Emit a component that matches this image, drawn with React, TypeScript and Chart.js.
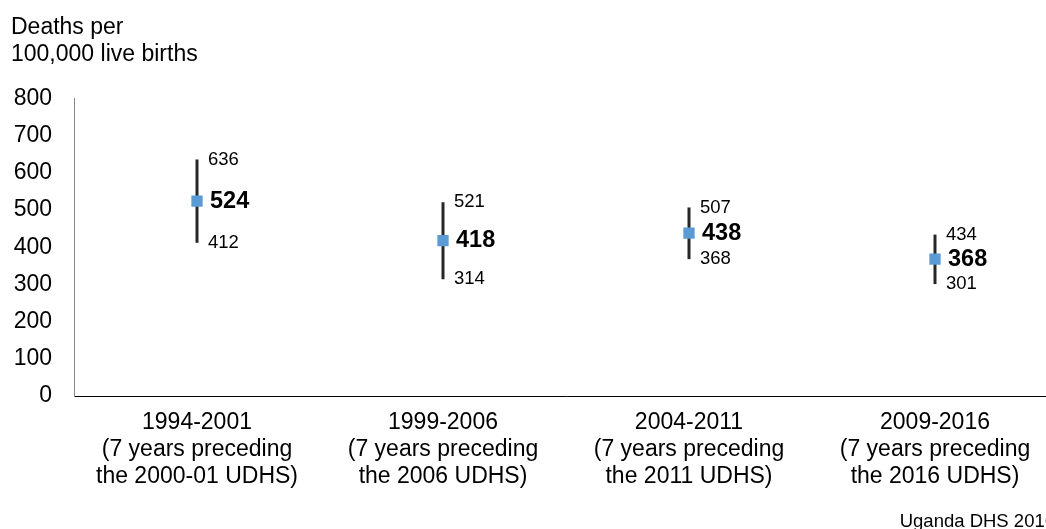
import React, { useEffect, useRef } from "react";
import { Chart, registerables } from "chart.js";

Chart.register(...registerables);

const categories: string[][] = [
  ["1994-2001", "(7 years preceding", "the 2000-01 UDHS)"],
  ["1999-2006", "(7 years preceding", "the 2006 UDHS)"],
  ["2004-2011", "(7 years preceding", "the 2011 UDHS)"],
  ["2009-2016", "(7 years preceding", "the 2016 UDHS)"],
];
const estimate: number[] = [524, 418, 438, 368];
const upper: number[] = [636, 521, 507, 434];
const lower: number[] = [412, 314, 368, 301];
const yTitle: string[] = ["Deaths per", "100,000 live births"];
const sourceNote = "Uganda DHS 2016";

const FONT = "'Liberation Sans', Arial, Helvetica, sans-serif";
const CANVAS_W = 1066;
const CANVAS_H = 529;

const errorBarPlugin = {
  id: "errorBars",
  beforeDatasetsDraw(chart: any) {
    const { ctx, scales } = chart;
    const x = scales.x;
    const y = scales.y;
    ctx.save();
    ctx.strokeStyle = "#262626";
    ctx.lineWidth = 3;
    upper.forEach((hi, i) => {
      const px = x.getPixelForValue(i);
      ctx.beginPath();
      ctx.moveTo(px, y.getPixelForValue(hi));
      ctx.lineTo(px, y.getPixelForValue(lower[i]));
      ctx.stroke();
    });
    ctx.restore();
  },
  afterDatasetsDraw(chart: any) {
    const { ctx, scales } = chart;
    const x = scales.x;
    const y = scales.y;
    ctx.save();
    ctx.fillStyle = "#000";
    ctx.textAlign = "left";
    ctx.textBaseline = "middle";
    estimate.forEach((v, i) => {
      const px = x.getPixelForValue(i);
      ctx.font = `18.5px ${FONT}`;
      ctx.fillText(String(upper[i]), px + 11, y.getPixelForValue(upper[i]));
      ctx.fillText(String(lower[i]), px + 11, y.getPixelForValue(lower[i]));
      ctx.font = `bold 23.5px ${FONT}`;
      ctx.fillText(String(v), px + 13, y.getPixelForValue(v));
    });
    ctx.restore();
  },
  afterDraw(chart: any) {
    const { ctx } = chart;
    ctx.save();
    ctx.fillStyle = "#000";
    ctx.font = `18.5px ${FONT}`;
    ctx.textAlign = "right";
    ctx.textBaseline = "middle";
    ctx.fillText(sourceNote, chart.width - 11, chart.height - 7.5);
    ctx.restore();
  },
};

export default function App() {
  const canvasRef = useRef<HTMLCanvasElement | null>(null);

  useEffect(() => {
    if (!canvasRef.current) return;
    const chart = new Chart(canvasRef.current, {
      type: "line",
      data: {
        labels: categories,
        datasets: [
          {
            data: estimate,
            showLine: false,
            pointStyle: "rect",
            pointRadius: 8,
            pointHoverRadius: 8,
            pointBorderWidth: 0,
            pointBackgroundColor: "#5b9bd5",
            pointBorderColor: "#5b9bd5",
          },
        ],
      },
      options: {
        animation: false,
        responsive: false,
        devicePixelRatio: 1,
        layout: { padding: { left: 11, right: 0, top: 0, bottom: 0 } },
        plugins: {
          legend: { display: false },
          tooltip: { enabled: false },
          title: {
            display: true,
            text: yTitle,
            align: "start",
            color: "#000",
            font: { family: FONT, size: 23, weight: "normal", lineHeight: "26.5px" },
            padding: { top: 14.5, bottom: 31 },
          },
        },
        scales: {
          x: {
            type: "category",
            offset: true,
            grid: { display: false, drawTicks: false },
            border: { display: true, color: "#000", width: 1 },
            ticks: {
              color: "#000",
              font: { family: FONT, size: 23, lineHeight: "27px" },
              padding: 13.5,
              maxRotation: 0,
              autoSkip: false,
            },
            afterFit(scale: any) {
              scale.height = 133;
            },
          },
          y: {
            min: 0,
            max: 800,
            grid: { display: false, drawTicks: false },
            border: { display: true, color: "#868686", width: 1 },
            ticks: {
              stepSize: 100,
              color: "#000",
              font: { family: FONT, size: 23 },
              padding: 22,
            },
            afterFit(scale: any) {
              scale.width = 63;
            },
          },
        },
      },
      plugins: [errorBarPlugin],
    });
    return () => chart.destroy();
  }, []);

  return (
    <div
      style={{
        position: "fixed",
        left: 0,
        top: 0,
        width: 1046,
        height: 529,
        overflow: "hidden",
        background: "#fff",
      }}
    >
      <canvas
        ref={canvasRef}
        width={CANVAS_W}
        height={CANVAS_H}
        style={{ display: "block", width: CANVAS_W, height: CANVAS_H }}
      />
    </div>
  );
}
